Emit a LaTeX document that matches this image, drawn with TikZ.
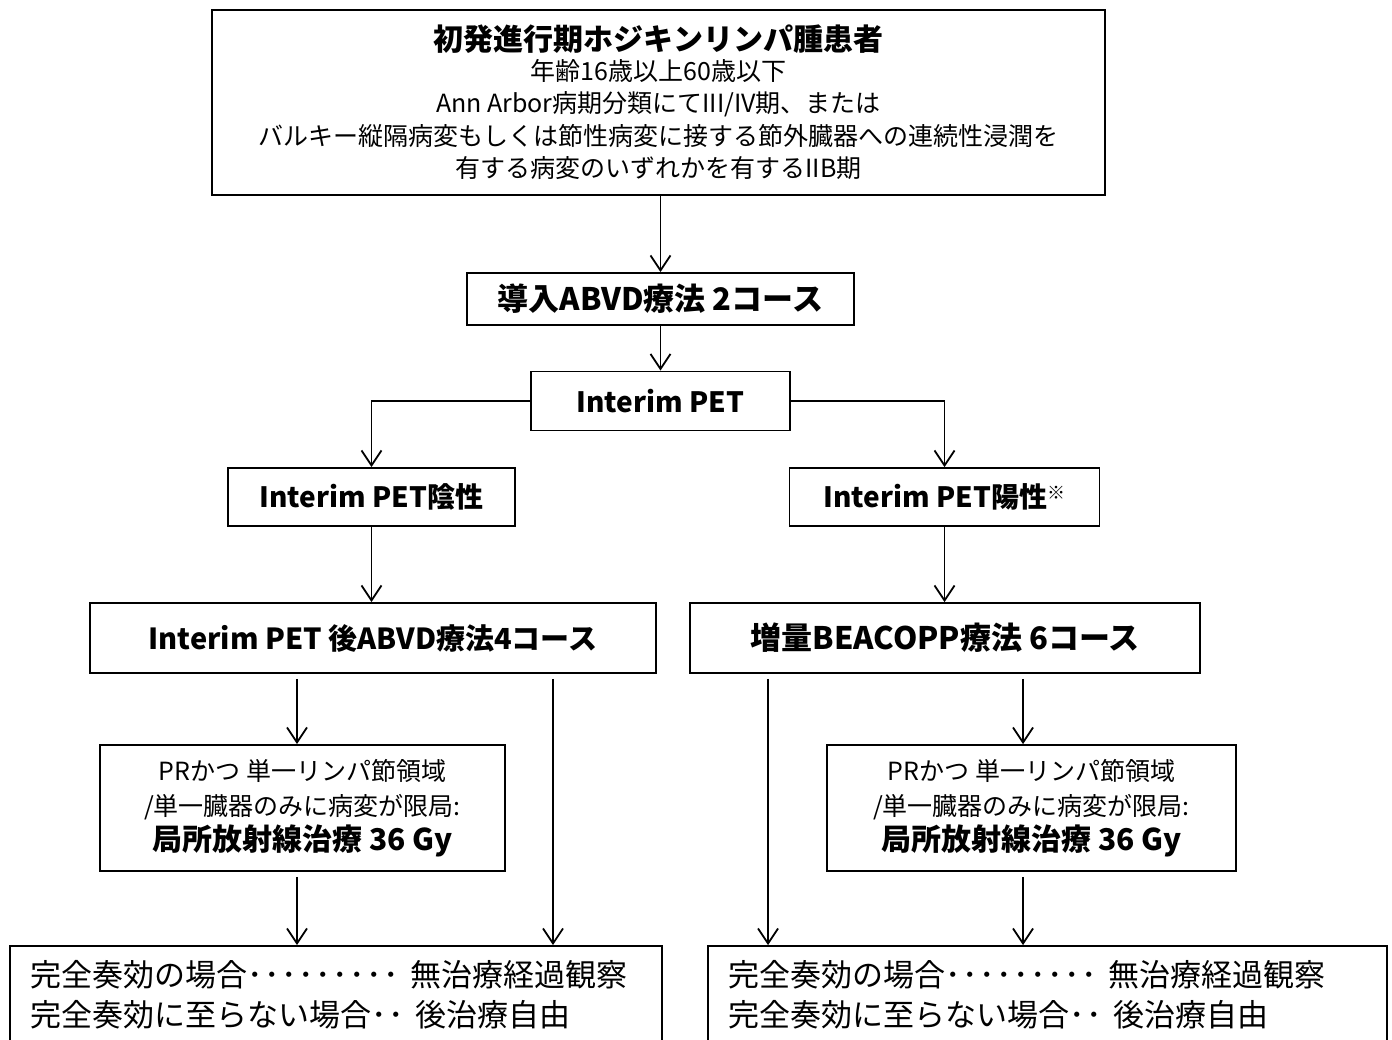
\documentclass[tikz,border=0pt]{standalone}
\usepackage{fontspec}
\setmainfont{Noto Sans CJK JP}
\usetikzlibrary{arrows.meta}
\newcommand{\dd}{\makebox[17pt]{･}}
\begin{document}
\begin{tikzpicture}[x=1pt,y=-1pt,
  box/.style={draw,line width=1.8pt,inner sep=0pt,align=center,anchor=center},
  arr/.style={line width=1.8pt,-{Straight Barb[length=15pt,width=20pt,line width=1.8pt]}},
  gap/.style={shorten <=5pt},
  lbl/.style={font=\fontsize{28}{34}\selectfont\bfseries},
  res/.style={box,align=left,inner xsep=20pt,minimum height=98pt,font=\fontsize{31}{40}\selectfont},
  rad/.style={box,minimum height=126pt,font=\fontsize{25}{35}\selectfont}]
\useasboundingbox[fill=white] (0,0) rectangle (1392,1039);

\node[box,minimum width=893pt,minimum height=185pt,font=\fontsize{25}{32.5}\selectfont] (top) at (658.5,102.5)
  {{\fontsize{30}{36}\selectfont\bfseries 初発進行期ホジキンリンパ腫患者}\\[-3pt]
   年齢16歳以上60歳以下\\
   Ann Arbor病期分類にてIII/IV期、または\\
   バルキー縦隔病変もしくは節性病変に接する節外臓器への連続性浸潤を\\
   有する病変のいずれかを有するIIB期};

\node[box,lbl,font=\fontsize{31}{36}\selectfont\bfseries,minimum width=387pt,minimum height=52pt] (ind) at (660.5,299) {導入ABVD療法 2コース};
\node[box,lbl,minimum width=259pt,minimum height=59pt] (pet) at (660.5,401) {Interim PET};
\node[box,lbl,minimum width=287pt,minimum height=58pt] (neg) at (371.5,497) {Interim PET陰性};
\node[box,lbl,minimum width=310pt,minimum height=58pt] (pos) at (944.5,497) {Interim PET陽性\raisebox{8pt}{\fontsize{18}{18}\selectfont ※}};
\node[box,lbl,font=\fontsize{29}{34}\selectfont\bfseries,minimum width=566pt,minimum height=70pt] (abvd) at (373,638) {Interim PET 後ABVD療法4コース};
\node[box,lbl,font=\fontsize{31}{36}\selectfont\bfseries,minimum width=510pt,minimum height=70pt] (beac) at (945,638) {増量BEACOPP療法 6コース};

\node[rad,minimum width=405pt] (radL) at (302.5,808)
  {PRかつ 単一リンパ節領域\\
   /単一臓器のみに病変が限局:\\
   {\fontsize{30}{35}\selectfont\bfseries 局所放射線治療 36 Gy}};
\node[rad,minimum width=409pt] (radR) at (1031.5,808)
  {PRかつ 単一リンパ節領域\\
   /単一臓器のみに病変が限局:\\
   {\fontsize{30}{35}\selectfont\bfseries 局所放射線治療 36 Gy}};

\node[res,text width=612pt] (botL) at (336,995)
  {完全奏効の場合\dd\dd\dd\dd\dd\dd\dd\dd\dd\ 無治療経過観察\\
   完全奏効に至らない場合\dd\dd\ 後治療自由};
\node[res,text width=639pt] (botR) at (1047.5,995)
  {完全奏効の場合\dd\dd\dd\dd\dd\dd\dd\dd\dd\ 無治療経過観察\\
   完全奏効に至らない場合\dd\dd\ 後治療自由};

\coordinate (xA) at (297,0);
\coordinate (xB) at (553,0);
\coordinate (xC) at (768,0);
\coordinate (xD) at (1023,0);

\draw[arr] (top.south -| ind.north) -- (ind.north);
\draw[arr] (ind.south) -- (pet.north);
\draw[arr] (pet.west) -| (neg.north);
\draw[arr] (pet.east) -| (pos.north);
\draw[arr] (neg.south) -- (abvd.north -| neg.south);
\draw[arr] (pos.south) -- (beac.north -| pos.south);
\draw[arr,gap] (abvd.south -| xA) -- (radL.north -| xA);
\draw[arr,gap] (abvd.south -| xB) -- (botL.north -| xB);
\draw[arr,gap] (beac.south -| xC) -- (botR.north -| xC);
\draw[arr,gap] (beac.south -| xD) -- (radR.north -| xD);
\draw[arr,gap] (radL.south -| xA) -- (botL.north -| xA);
\draw[arr,gap] (radR.south -| xD) -- (botR.north -| xD);
\end{tikzpicture}
\end{document}
